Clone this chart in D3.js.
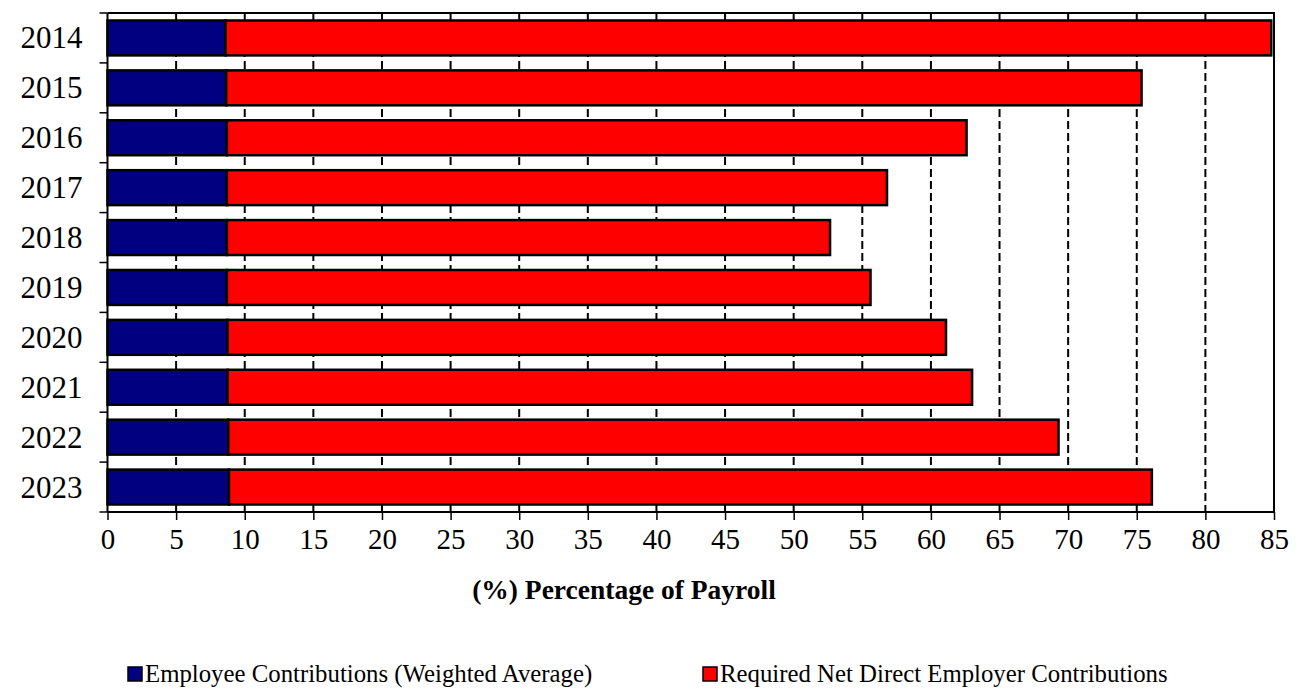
<!DOCTYPE html>
<html>
<head>
<meta charset="utf-8">
<script src="https://cdn.jsdelivr.net/npm/d3@7"></script>
<style>
  html, body { margin: 0; padding: 0; background: #fff; }
  svg { display: block; }
  text { font-family: "Liberation Serif", "Times New Roman", serif; fill: #000; }
</style>
</head>
<body>
<svg id="chart" width="1299" height="698"></svg>
<script>
const years = ["2014","2015","2016","2017","2018","2019","2020","2021","2022","2023"];
const employee = [8.6, 8.65, 8.7, 8.7, 8.7, 8.7, 8.75, 8.75, 8.8, 8.85];
const employer = [76.2, 66.7, 53.9, 48.1, 43.95, 46.9, 52.35, 54.25, 60.5, 67.25];
const xTicks = [0,5,10,15,20,25,30,35,40,45,50,55,60,65,70,75,80,85];
const seriesNames = ["Employee Contributions (Weighted Average)", "Required Net Direct Employer Contributions"];
const seriesColors = ["#000080", "#ff0000"];
const xTitle = "(%) Percentage of Payroll";

(function () {
const svg = d3.select("#chart");
const pLeft = 107.5, pRight = 1274, pTop = 13, pBottom = 512;

const x = d3.scaleLinear().domain([0, 85]).range([pLeft, pRight]);
const y = d3.scaleBand().domain(years).range([pTop, pBottom]).paddingInner(0.3).paddingOuter(0.15);
const yOuter = d3.scaleBand().domain(years).range([pTop, pBottom]);

const rows = years.map((yr, i) => ({ year: yr, values: [employee[i], employer[i]] }));
const stack = d3.stack().keys([0, 1]).value((d, k) => d.values[k]);
const stacked = stack(rows);

// gridlines (dashed)
svg.append("g").selectAll("line")
  .data(xTicks.filter(t => t > 0 && t < 85))
  .join("line")
  .attr("x1", d => x(d)).attr("x2", d => x(d))
  .attr("y1", pTop).attr("y2", pBottom)
  .attr("stroke", "#000").attr("stroke-width", 2)
  .attr("stroke-dasharray", "8,4");

// plot border top/right
svg.append("path")
  .attr("d", `M${pLeft},${pTop}H${pRight}V${pBottom}`)
  .attr("fill", "none").attr("stroke", "#000").attr("stroke-width", 2);

// bars
svg.append("g").selectAll("g")
  .data(stacked)
  .join("g")
  .attr("fill", (d, i) => seriesColors[i])
  .selectAll("rect")
  .data(d => d)
  .join("rect")
  .attr("x", d => x(d[0]))
  .attr("width", d => x(d[1]) - x(d[0]))
  .attr("y", d => y(d.data.year))
  .attr("height", y.bandwidth())
  .attr("stroke", "#000").attr("stroke-width", 2.5);

// x axis
const xAxis = d3.axisBottom(x).tickValues(xTicks).tickSize(8).tickPadding(8).tickFormat(d3.format("d"));
const gx = svg.append("g").attr("transform", `translate(0,${pBottom})`).call(xAxis);
gx.select(".domain").attr("stroke-width", 2).attr("d", `M${pLeft},0H${pRight}`);
gx.selectAll(".tick line").attr("stroke-width", 1.5);
gx.selectAll("text").attr("font-size", 29).attr("font-family", "Liberation Serif");

// y axis with ticks at band boundaries
const gy = svg.append("g").attr("transform", `translate(${pLeft},0)`);
gy.append("line").attr("x1", 0).attr("x2", 0).attr("y1", pTop).attr("y2", pBottom)
  .attr("stroke", "#000").attr("stroke-width", 2);
const bounds = years.map(yr => yOuter(yr)).concat([pBottom]);
gy.selectAll("line.tk").data(bounds).join("line").attr("class", "tk")
  .attr("x1", -8).attr("x2", 0).attr("y1", d => d).attr("y2", d => d)
  .attr("stroke", "#000").attr("stroke-width", 1.5);
gy.selectAll("text").data(years).join("text")
  .attr("x", -25).attr("y", d => yOuter(d) + yOuter.bandwidth() / 2)
  .attr("text-anchor", "end").attr("dominant-baseline", "central")
  .attr("font-size", 31).text(d => d);

// x title
svg.append("text").attr("x", 624).attr("y", 599)
  .attr("text-anchor", "middle").attr("font-size", 27.5).attr("font-weight", "bold")
  .text(xTitle);

// legend
const legendX = [128, 703];
const lg = svg.append("g").selectAll("g").data(seriesNames).join("g")
  .attr("transform", (d, i) => `translate(${legendX[i]},0)`);
lg.append("rect").attr("x", 0).attr("y", 667).attr("width", 14).attr("height", 14)
  .attr("fill", (d, i) => seriesColors[i]).attr("stroke", "#000").attr("stroke-width", 1.5);
lg.append("text").attr("x", 17).attr("y", 682).attr("font-size", 24.8).text(d => d);
})();
</script>
</body>
</html>
